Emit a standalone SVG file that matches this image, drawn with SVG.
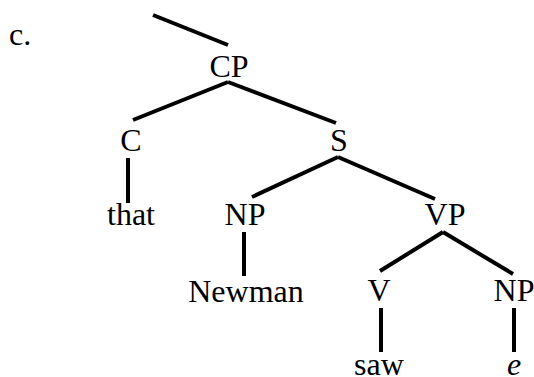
<svg xmlns="http://www.w3.org/2000/svg" width="534" height="377" viewBox="0 0 534 377">
<style>
text{font-family:"Liberation Serif","Times New Roman",serif;font-size:32px;fill:#000;text-anchor:middle}
.e{font-style:italic}
#edges line{stroke:#000;stroke-width:4;stroke-linecap:butt}
</style>
<rect width="534" height="377" fill="#fff"/>
<g id="edges">
<line x1="153" y1="15" x2="228" y2="45"/>
<line x1="228" y1="82" x2="133" y2="120"/>
<line x1="228" y1="82" x2="336" y2="123"/>
<line x1="128" y1="158" x2="128" y2="203"/>
<line x1="338" y1="157" x2="252" y2="197"/>
<line x1="338" y1="157" x2="435" y2="199"/>
<line x1="244" y1="232" x2="244" y2="276"/>
<line x1="443" y1="232" x2="380" y2="271"/>
<line x1="443" y1="232" x2="513" y2="274"/>
<line x1="381" y1="308" x2="381" y2="352"/>
<line x1="514" y1="308" x2="514" y2="352"/>
</g>
<g id="label"><text x="9" y="45" style="text-anchor:start">c.</text></g>
<g id="n-CP"><text x="229" y="77">CP</text></g>
<g id="n-C"><text x="131" y="151">C</text></g>
<g id="n-S"><text x="339" y="151">S</text></g>
<g id="n-that"><text x="131" y="225">that</text></g>
<g id="n-NP1"><text x="245" y="225">NP</text></g>
<g id="n-VP"><text x="445" y="225">VP</text></g>
<g id="n-Newman"><text x="246" y="302">Newman</text></g>
<g id="n-V"><text x="379" y="301">V</text></g>
<g id="n-NP2"><text x="514" y="301">NP</text></g>
<g id="n-saw"><text x="379" y="375">saw</text></g>
<g id="n-e"><text class="e" x="514" y="375">e</text></g>
</svg>
